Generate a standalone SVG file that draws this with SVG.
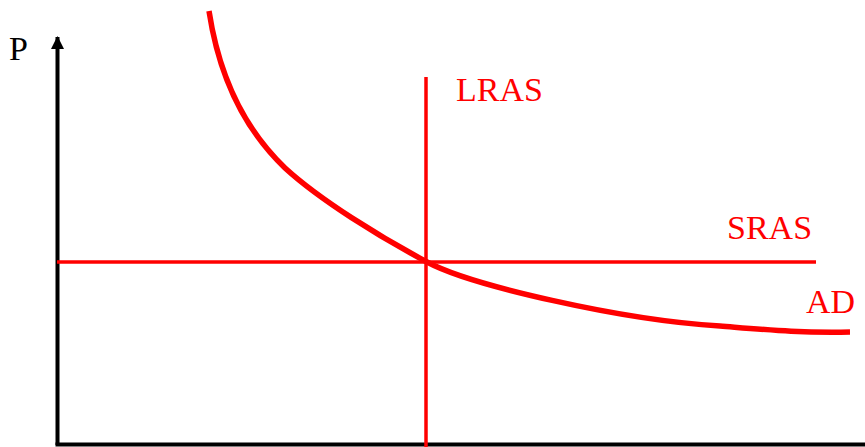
<svg xmlns="http://www.w3.org/2000/svg" width="865" height="447" viewBox="0 0 865 447">
<style>
.lbl{font-family:"Liberation Serif","Times New Roman",serif;font-size:34px;fill:#ff0000}
.red{stroke:#ff0000;fill:none}
</style>
<defs>
<marker id="arr" markerUnits="userSpaceOnUse" markerWidth="14" markerHeight="14" refX="7" refY="1" orient="auto-start-reverse" viewBox="0 0 14 14">
<path d="M0,13 L7,0 L14,13 Z" fill="#000"/>
</marker>
</defs>
<rect width="865" height="447" fill="#fff"/>
<g id="axes">
<line x1="57.5" y1="445" x2="57.5" y2="37" stroke="#000" stroke-width="4"/>
<path d="M51,49 L57.5,36 L64,49 Z" fill="#000"/>
<line x1="55.5" y1="444.5" x2="865" y2="444.5" stroke="#000" stroke-width="4"/>
<text x="9" y="60" style="font-family:'Liberation Serif','Times New Roman',serif;font-size:34px;fill:#000">P</text>
</g>
<g id="connectors">
<g id="LRAS">
<line class="red" x1="426" y1="77" x2="426" y2="447" stroke-width="3.5"/>
<text class="lbl" x="456" y="101">LRAS</text>
</g>
<g id="SRAS">
<line class="red" x1="57" y1="262" x2="816" y2="262" stroke-width="3.5"/>
<text class="lbl" x="727" y="239">SRAS</text>
</g>
<g id="AD">
<path class="red" stroke-width="5.5" d="M209,11 C218,70 240,125 285,168 C320,200 380,237 427,262 C470,285 620,320 720,326 C770,330 800,333 850,332"/>
<text class="lbl" x="806" y="313">AD</text>
</g>
</g>
</svg>
